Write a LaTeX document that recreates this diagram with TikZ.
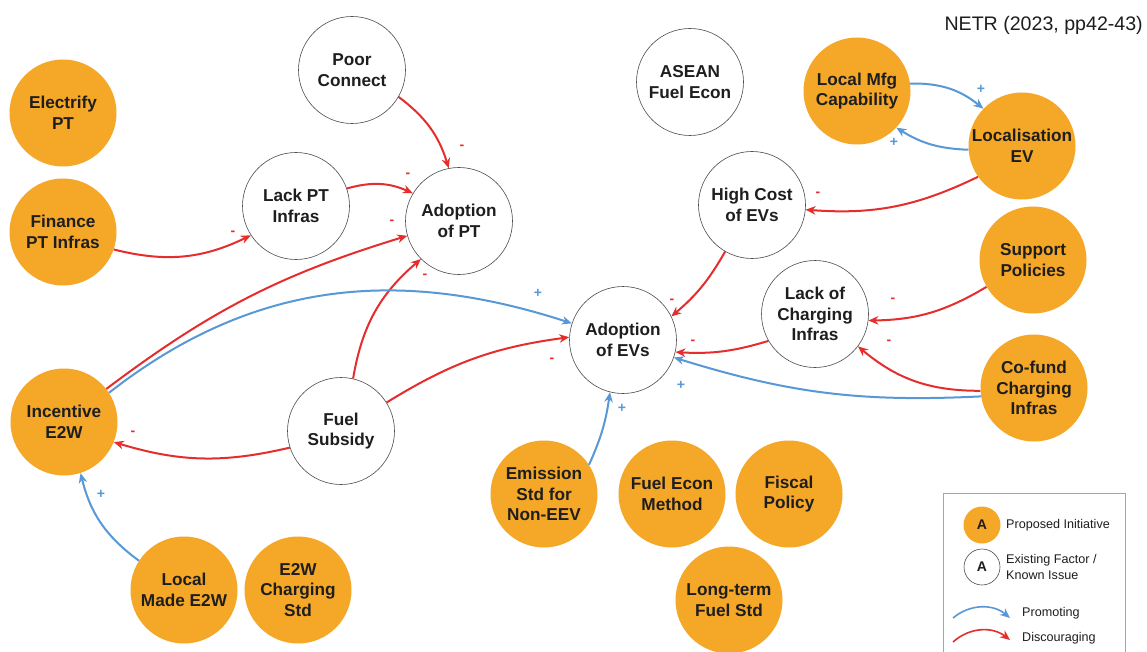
\documentclass[tikz,border=0pt]{standalone}
\usepackage{fontspec}
\setmainfont{Liberation Sans}
\usetikzlibrary{arrows.meta}
\definecolor{orangeF}{RGB}{245,167,40}
\definecolor{redA}{RGB}{229,45,45}
\definecolor{blueA}{RGB}{88,152,214}
\definecolor{txt}{RGB}{30,30,30}
\newcommand\nodefont{\bfseries\fontsize{17.2}{20.8}\selectfont}
\newcommand\signfont{\bfseries\fontsize{14}{14}\selectfont}
\newcommand\legfont{\fontsize{12.6}{15.5}\selectfont}
\begin{document}
\begin{tikzpicture}[x=1pt,y=1pt,
  init/.style={circle, fill=orangeF, minimum size=107pt, inner sep=0pt, align=center, text=txt, font=\nodefont},
  exist/.style={circle, draw=black!70, line width=0.6pt, fill=white, minimum size=107pt, inner sep=0pt, align=center, text=txt, font=\nodefont},
  pro/.style={draw=blueA, line width=2pt, -{Stealth[length=10pt,width=8.5pt]}},
  neg/.style={draw=redA, line width=2pt, -{Stealth[length=10pt,width=8.5pt]}},
  sgnp/.style={text=blueA, font=\signfont, inner sep=0pt},
  sgnm/.style={text=redA, font=\signfont, inner sep=0pt},
  legtext/.style={anchor=west, align=left, font=\legfont, text=txt, inner sep=0pt}]
\useasboundingbox (0,0) rectangle (1147,-652);
\fill[white] (0,0) rectangle (1147,-652);

% nodes
\node[init] (ept) at (63,-113) {Electrify\\PT};
\node[init] (fpt) at (63,-232) {Finance\\PT Infras};
\node[exist] (pc) at (352,-70) {Poor\\Connect};
\node[exist] (lpt) at (296,-206) {Lack PT\\Infras};
\node[exist] (apt) at (459,-221) {Adoption\\of PT};
\node[exist] (asean) at (690,-82) {ASEAN\\Fuel Econ};
\node[init] (lmc) at (857,-91) {Local Mfg\\Capability};
\node[init] (lev) at (1022,-146) {Localisation\\EV};
\node[exist] (hc) at (752,-205) {High Cost\\of EVs};
\node[init] (sp) at (1033,-260) {Support\\Policies};
\node[exist] (lci) at (815,-314) {Lack of\\Charging\\Infras};
\node[exist] (aev) at (623,-340) {Adoption\\of EVs};
\node[init] (cf) at (1034,-388) {Co-fund\\Charging\\Infras};
\node[init] (ie) at (64,-422) {Incentive\\E2W};
\node[exist] (fs) at (341,-431) {Fuel\\Subsidy};
\node[init] (lm) at (184,-590) {Local\\Made E2W};
\node[init] (ecs) at (298,-590) {E2W\\Charging\\Std};
\node[init] (es) at (544,-494) {Emission\\Std for\\Non-EEV};
\node[init] (fem) at (672,-494) {Fuel Econ\\Method};
\node[init] (fp) at (789,-494) {Fiscal\\Policy};
\node[init] (lt) at (729,-600) {Long-term\\Fuel Std};

% connectors
\draw[neg] (pc.-30) to[bend left=18] (apt.101);
\draw[neg] (lpt.19) to[bend left=20] (apt.149);
\draw[neg] (fpt.-19) to[bend right=20] (lpt.213);
\draw[neg] (ie.38) to[bend left=10] (apt.196);
\draw[neg] (fs.77) to[bend left=20] (apt.225);
\draw[pro] (ie.33) to[out=38,in=162] (aev.162);
\draw[neg] (fs.32) to[bend left=12] (aev.177);
\draw[neg] (fs.198) to[bend left=15] (ie.-22);
\draw[pro] (lm.147) to[bend left=20] (ie.-72);
\draw[pro] (es.33) to[bend right=8] (aev.256);
\draw[neg] (hc.240) to[bend left=10] (aev.26);
\draw[neg] (lci.210) to[bend left=10] (aev.-13);
\draw[pro] (cf.189) to[bend left=10] (aev.-19);
\draw[neg] (cf.183) to[bend left=20] (lci.-37);
\draw[neg] (sp.210) to[bend left=15] (lci.-7);
\draw[neg] (lev.215) to[bend left=15] (hc.-5);
\draw[pro] (lmc.8) to[bend left=20] (lev.136);
\draw[pro] (lev.184) to[bend left=15] (lmc.-43);

% signs
\node[sgnm] (m1) at (462,-147) {-};
\node[sgnm] (m2) at (408,-175) {-};
\node[sgnm] (m3) at (233,-233) {-};
\node[sgnm] (m4) at (392,-222) {-};
\node[sgnm] (m5) at (425,-276) {-};
\node[sgnp] (p6) at (538,-293) {+};
\node[sgnm] (m7) at (552,-360) {-};
\node[sgnm] (m8) at (133,-433) {-};
\node[sgnp] (p9) at (101,-494) {+};
\node[sgnp] (p10) at (622,-408) {+};
\node[sgnm] (m11) at (672,-301) {-};
\node[sgnm] (m12) at (693,-342) {-};
\node[sgnp] (p13) at (681,-385) {+};
\node[sgnm] (m14) at (889,-342) {-};
\node[sgnm] (m15) at (893,-300) {-};
\node[sgnm] (m16) at (818,-194) {-};
\node[sgnp] (p17) at (981,-89) {+};
\node[sgnp] (p18) at (894,-142) {+};

% title
\node[anchor=east, inner sep=0pt, text=txt, font=\fontsize{19.6}{19.6}\selectfont] (netr) at (1143,-25) {NETR (2023, pp42-43)};

% legend
\draw[black!35, line width=0.8pt] (943,-493) rectangle (1125,-662);
\node[init, minimum size=37pt, font=\bfseries\fontsize{14}{14}\selectfont] (la) at (982,-525) {A};
\node[exist, minimum size=36pt, font=\bfseries\fontsize{14}{14}\selectfont] (lb) at (982,-567) {A};
\node[legtext] (lta) at (1006,-525) {Proposed Initiative};
\node[legtext] (ltb) at (1006,-567) {Existing Factor /\\Known Issue};
\coordinate (pa1) at (953,-618);
\coordinate (pa2) at (1010,-618);
\draw[pro, line width=1.6pt] (pa1) to[bend left=40] (pa2);
\node[legtext] (ltc) at (1022,-613) {Promoting};
\coordinate (da1) at (953,-642);
\coordinate (da2) at (1010,-640);
\draw[neg, line width=1.6pt] (da1) to[bend left=40] (da2);
\node[legtext] (ltd) at (1022,-638) {Discouraging};
\end{tikzpicture}
\end{document}
